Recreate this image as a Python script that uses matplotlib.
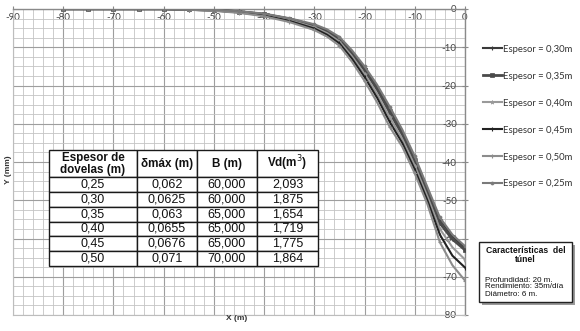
import matplotlib
matplotlib.use("Agg")
import matplotlib.pyplot as plt
from matplotlib.patches import Rectangle
from matplotlib.ticker import MultipleLocator

# ---------------- data ----------------
x_m = [-80, -75, -70, -65, -60, -55, -50, -45, -40, -35, -30, -27.5, -25, -22.5, -20,
       -17.5, -15, -12.5, -10, -7.5, -5, -2.5, 0]

s_030 = [0, 0, 0, 0, 0, -0.1, -0.3, -0.6, -1.3, -2.5, -4.2, -5.6, -7.6, -11.2, -15.5,
         -20.4, -26.2, -32.0, -39.0, -47.0, -55.0, -59.5, -62.5]
s_035 = [0, 0, 0, 0, 0, -0.1, -0.3, -0.7, -1.4, -2.6, -4.4, -5.9, -8.0, -11.6, -16.0,
         -21.0, -27.0, -32.8, -39.8, -47.8, -56.0, -60.2, -63.0]
s_040 = [0, 0, 0, 0, 0, -0.1, -0.3, -0.8, -1.6, -2.9, -4.8, -6.3, -8.5, -12.4, -17.0,
         -22.2, -28.3, -34.0, -41.0, -49.0, -57.5, -62.3, -65.5]
s_045 = [0, 0, 0, 0, 0, -0.2, -0.4, -0.9, -1.7, -3.1, -5.1, -6.7, -9.0, -13.0, -17.8,
         -23.2, -29.5, -35.0, -42.0, -50.0, -59.0, -64.5, -67.6]
s_050 = [0, 0, 0, 0, 0, -0.2, -0.5, -1.0, -1.9, -3.4, -5.5, -7.2, -9.6, -13.8, -18.8,
         -24.4, -30.8, -36.0, -43.0, -51.0, -61.0, -67.0, -71.0]
s_025 = [0, 0, 0, 0, 0, -0.1, -0.2, -0.6, -1.2, -2.4, -4.0, -5.3, -7.3, -10.8, -15.0,
         -19.8, -25.5, -31.5, -38.5, -46.5, -54.5, -59.0, -62.0]

series_labels = ["Espesor = 0,30m", "Espesor = 0,35m", "Espesor = 0,40m",
                 "Espesor = 0,45m", "Espesor = 0,50m", "Espesor = 0,25m"]
series_values = [s_030, s_035, s_040, s_045, s_050, s_025]

x_ticks = [-90, -80, -70, -60, -50, -40, -30, -20, -10, 0]
y_ticks = [0, -10, -20, -30, -40, -50, -60, -70, -80]

table_header = ["Espesor de\ndovelas (m)", "δmáx (m)", "B (m)", "Vd(m$^3$)"]
table_espesor = ["0,25", "0,30", "0,35", "0,40", "0,45", "0,50"]
table_dmax = ["0,062", "0,0625", "0,063", "0,0655", "0,0676", "0,071"]
table_B = ["60,000", "60,000", "65,000", "65,000", "65,000", "70,000"]
table_Vd = ["2,093", "1,875", "1,654", "1,719", "1,775", "1,864"]

box_title = "Características  del\ntúnel"
box_lines = "Profundidad: 20 m.\nRendimiento: 35m/día\nDiámetro: 6 m."

# ---------------- styles ----------------
styles = [
    dict(color="#3a3a3a", lw=1.5, marker="+", ms=3.0, mew=0.8),
    dict(color="#4a4a4a", lw=2.0, marker="s", ms=2.6, mew=0.5),
    dict(color="#9a9a9a", lw=1.5, marker="*", ms=3.0, mew=0.5),
    dict(color="#222222", lw=1.5, marker="|", ms=3.0, mew=0.8),
    dict(color="#8c8c8c", lw=1.5, marker="+", ms=3.0, mew=0.8),
    dict(color="#7a7a7a", lw=1.5, marker="o", ms=2.2, mew=0.5),
]
mark_idx = [0, 1, 2, 3, 4, 5, 6, 7, 8, 9, 10, 12, 14, 16, 18, 20, 22]

W, H = 580, 331
fig = plt.figure(figsize=(W / 100, H / 100), dpi=100)
fig.patch.set_facecolor("white")

L, R, T, B = 13, 465, 9, 315
ax = fig.add_axes([L / W, 1 - B / H, (R - L) / W, (B - T) / H])

for vals, lab, st in zip(series_values, series_labels, styles):
    ax.plot(x_m, vals, label=lab, markevery=mark_idx, zorder=3, **st)

ax.set_xlim(-90, 0)
ax.set_ylim(-80, 0)
ax.set_xticks(x_ticks)
ax.set_yticks(y_ticks)
ax.xaxis.set_minor_locator(MultipleLocator(2))
ax.yaxis.set_minor_locator(MultipleLocator(2.5))
ax.grid(which="major", color="#9e9e9e", lw=0.8, zorder=0)
ax.grid(which="minor", color="#c4c4c4", lw=0.6, zorder=0)
ax.set_axisbelow(True)

for s in ["left", "bottom"]:
    ax.spines[s].set_color("#bdbdbd")
    ax.spines[s].set_linewidth(0.8)
for s in ["top", "right"]:
    ax.spines[s].set_color("#8a8a8a")
    ax.spines[s].set_linewidth(1.0)

tick_font = "Lato"
ax.xaxis.tick_top()
ax.tick_params(axis="x", which="major", top=True, bottom=False, labeltop=True,
               labelbottom=False, direction="inout", length=4, color="#888888",
               pad=-11, labelsize=7, labelcolor="#444444")
ax.tick_params(axis="x", which="minor", top=False, bottom=False)
ax.yaxis.tick_right()
ax.tick_params(axis="y", which="major", right=True, left=False, labelright=True,
               labelleft=False, direction="inout", length=4, color="#888888",
               pad=-8, labelsize=7, labelcolor="#444444")
ax.tick_params(axis="y", which="minor", right=False, left=False)
ax.set_xticklabels([str(v) for v in x_ticks], fontfamily=tick_font)
ax.set_yticklabels([str(v) for v in y_ticks], fontfamily=tick_font, ha="right")

fig.text(8 / W, 1 - 170 / H, "Y (mm)", rotation=90, ha="center", va="center",
         fontsize=6, fontweight="bold", color="#333333", family="Liberation Sans")
fig.text(237 / W, 1 - 319 / H, "X (m)", ha="center", va="center",
         fontsize=6, fontweight="bold", color="#333333", family="Liberation Sans")

# ---------------- table ----------------
cell_text = [list(r) for r in zip(table_espesor, table_dmax, table_B, table_Vd)]
tab = ax.table(cellText=cell_text, colLabels=table_header, cellLoc="center",
               bbox=[(49 - L) / (R - L), (B - 266) / (B - T),
                     (318 - 49) / (R - L), (266 - 150) / (B - T)], zorder=5)
tab.auto_set_font_size(False)
col_w = [88, 60, 60, 61]
for (r, c), cell in tab.get_celld().items():
    cell.set_edgecolor("#1a1a1a")
    cell.set_linewidth(1.0)
    cell.set_facecolor("white")
    cell.set_width(col_w[c])
    cell.set_height(27 if r == 0 else 14.8)
    t = cell.get_text()
    t.set_family("Liberation Sans")
    t.set_color("#111111")
    if r == 0:
        t.set_fontsize(8.4)
        t.set_fontweight("bold")
        t.set_linespacing(1.0)
    else:
        t.set_fontsize(9.0)

# ---------------- legend ----------------
leg = fig.legend(loc="upper left", bbox_to_anchor=(479 / W, 1 - 41 / H),
                 frameon=False, handlelength=2.0,
                 handletextpad=0.1, labelspacing=1.9, borderaxespad=0,
                 prop={"family": "Lato", "size": 6.8})
for t in leg.get_texts():
    t.set_color("#333333")

# ---------------- info box ----------------
bx0, by0, bx1, by1 = 479, 242, 572, 302
fig.patches.append(Rectangle(((bx0 + 3) / W, 1 - (by1 + 3) / H), (bx1 - bx0) / W,
                             (by1 - by0) / H, transform=fig.transFigure,
                             facecolor="#9a9a9a", edgecolor="none", zorder=1))
fig.patches.append(Rectangle((bx0 / W, 1 - by1 / H), (bx1 - bx0) / W,
                             (by1 - by0) / H, transform=fig.transFigure,
                             facecolor="white", edgecolor="#222222", lw=1.0,
                             zorder=2))
fig.text((bx0 + bx1) / 2 / W, 1 - 255 / H, box_title, ha="center", va="center",
         fontsize=6.2, fontweight="bold", family="Liberation Sans",
         color="#111111", linespacing=1.1, zorder=3)
fig.text(485 / W, 1 - 287 / H, box_lines, ha="left", va="center",
         fontsize=5.8, family="Liberation Sans", color="#111111",
         linespacing=1.0, zorder=3)

fig.savefig("out.png", dpi=100)
